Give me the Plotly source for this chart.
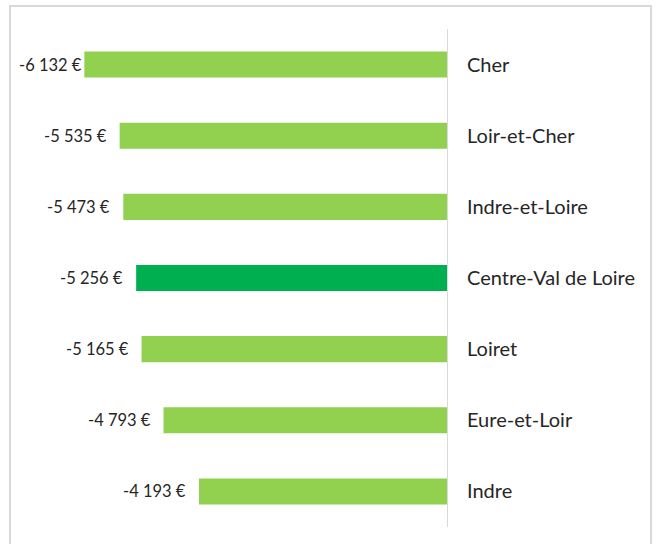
import plotly.graph_objects as go

departements = ["Cher", "Loir-et-Cher", "Indre-et-Loire", "Centre-Val de Loire", "Loiret", "Eure-et-Loir", "Indre"]
valeurs = [-6132, -5535, -5473, -5256, -5165, -4793, -4193]
etiquettes = ["-6 132 €", "-5 535 €", "-5 473 €", "-5 256 €", "-5 165 €", "-4 793 €", "-4 193 €"]
couleurs = ["#92D050" if d != "Centre-Val de Loire" else "#00B050" for d in departements]

XMIN = -7000
L, R, T, B = 33, 209, 29, 17
W, H = 656, 544
pw, ph = W - L - R, H - T - B

def px_x(p):
    return (p - L) / pw

def px_y(p):
    return (H - B - p) / ph

fig = go.Figure(go.Bar(
    x=valeurs, y=departements, orientation="h",
    marker=dict(color=couleurs, line=dict(width=0)),
    hoverinfo="skip",
))

annots = []
GAP, LABW, MINLEFT = 11, 66, 17
for d, v, t in zip(departements, valeurs, etiquettes):
    bar_px = L + (v - XMIN) / (-XMIN) * pw
    if bar_px - GAP - LABW < MINLEFT:
        annots.append(dict(x=px_x(MINLEFT), xref="paper", y=d, yref="y", text=t,
                           xanchor="left", showarrow=False))
    else:
        annots.append(dict(x=v, xref="x", y=d, yref="y", text=t, xanchor="right",
                           xshift=-GAP, showarrow=False))

fig.update_layout(
    width=W, height=H,
    margin=dict(l=L, r=R, t=T, b=B),
    plot_bgcolor="white", paper_bgcolor="white",
    bargap=0.634,
    showlegend=False,
    font=dict(family="Lato", size=16.5, color="#262626"),
    xaxis=dict(range=[XMIN, 0], showgrid=False, zeroline=False, showticklabels=False, fixedrange=True),
    yaxis=dict(autorange="reversed", side="right", showline=True, linecolor="#d9d9d9", linewidth=1,
               ticks="", ticklabelstandoff=15, showgrid=False,
               tickfont=dict(family="Lato", size=20, color="#262626")),
    annotations=annots,
    shapes=[dict(type="rect", xref="paper", yref="paper",
                 x0=px_x(10), x1=px_x(651), y0=px_y(560), y1=px_y(6),
                 line=dict(color="#d9d9d9", width=2), layer="below")],
)

fig.write_html("out.html", config={"displayModeBar": False},
               post_script="document.body.style.margin='0';document.body.style.overflow='hidden';")
